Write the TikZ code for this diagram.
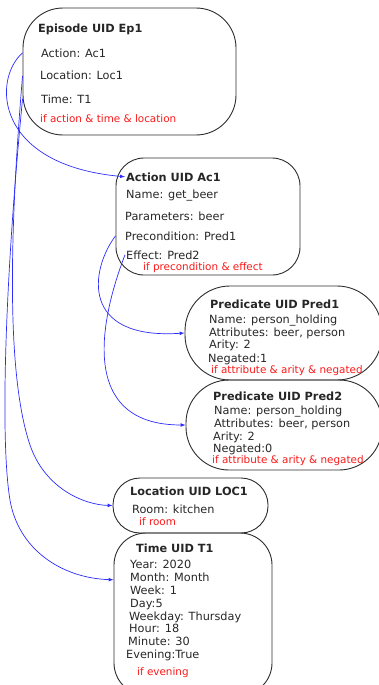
\documentclass[tikz,border=0pt]{standalone}
\usepackage{fontspec}
\setmainfont{DejaVu Sans}
\usetikzlibrary{arrows}
\definecolor{linkblue}{RGB}{45,45,250}
\definecolor{condred}{RGB}{250,25,25}
\definecolor{boxgray}{RGB}{45,45,45}
\tikzset{
  frame/.style={draw=boxgray, line width=0.9pt, inner sep=0pt},
  txt/.style={anchor=base west, inner sep=1pt, text=black!85, font=\fontsize{11.3}{13}\selectfont},
  ttl/.style={txt, font=\bfseries\fontsize{11.3}{13}\selectfont},
  cond/.style={txt, text=condred, font=\fontsize{10.4}{12}\selectfont},
  link/.style={draw=linkblue, line width=0.7pt, ->, >=latex}
}

\begin{document}
\begin{tikzpicture}[x=1pt,y=-1pt]
    \useasboundingbox (0,0) rectangle (379,685);
    % boxes
    \draw (129.5,71.5) node[frame,minimum width=213pt,minimum height=127pt,rounded corners=40pt] (ep) {};
    \draw (208,216.5) node[frame,minimum width=184pt,minimum height=117pt,rounded corners=28pt] (act) {};
    \draw (283.5,333) node[frame,minimum width=197pt,minimum height=94pt,rounded corners=45pt] (pa) {};
    \draw (284,425) node[frame,minimum width=196pt,minimum height=90pt,rounded corners=43pt] (pb) {};
    \draw (190.5,505.5) node[frame,minimum width=155pt,minimum height=55pt,rounded corners=27pt] (loc) {};
    \draw (193,614) node[frame,minimum width=158pt,minimum height=162pt,rounded corners=32pt] (tm) {};

    % episode
    \draw (37,33)  node[ttl] (epttl) {Episode UID Ep1};
    \draw (40,57)  node[txt] (epact) {Action: Ac1};
    \draw (39,80)  node[txt] (eploc) {Location: Loc1};
    \draw (40,103) node[txt] (eptime) {Time: T1};
    \draw (39,122) node[cond] (epif) {if action \& time \& location};

    % action
    \draw (125,181) node[ttl] (actttl) {Action UID Ac1};
    \draw (125,198) node[txt] (actname) {Name: get\_beer};
    \draw (124,220) node[txt] (actpar) {Parameters: beer};
    \draw (124,240) node[txt] (actpre) {Precondition: Pred1};
    \draw (125,259) node[txt] (acteff) {Effect: Pred2};
    \draw (142,270) node[cond] (actif) {if precondition \& effect};

    % predicates
    \draw (209,308) node[ttl] (pattl) {Predicate UID Pred1};
    \draw (208,323) node[txt] (paname) {Name: person\_holding};
    \draw (208,336) node[txt] (paattr) {Attributes: beer, person};
    \draw (208,348) node[txt] (paar) {Arity: 2};
    \draw (207,362) node[txt] (paneg) {Negated:1};
    \draw (210,373) node[cond] (paif) {if attribute \& arity \& negated};

    \draw (212,400) node[ttl] (pbttl) {Predicate UID Pred2};
    \draw (213,414) node[txt] (pbname) {Name: person\_holding};
    \draw (213,427) node[txt] (pbattr) {Attributes: beer, person};
    \draw (212,440) node[txt] (pbar) {Arity: 2};
    \draw (212,452) node[txt] (pbneg) {Negated:0};
    \draw (211,463) node[cond] (pbif) {if attribute \& arity \& negated};

    % location
    \draw (129,495) node[ttl] (locttl) {Location UID LOC1};
    \draw (131,513) node[txt] (locroom) {Room: kitchen};
    \draw (138,525) node[cond] (locif) {if room};

    % time
    \draw (135,552) node[ttl] (tmttl) {Time UID T1};
    \draw (129,568) node[txt] (tmyear) {Year: 2020};
    \draw (129,581) node[txt] (tmmonth) {Month: Month};
    \draw (129,594) node[txt] (tmweek) {Week: 1};
    \draw (129,607) node[txt] (tmday) {Day:5};
    \draw (128,620) node[txt] (tmwday) {Weekday: Thursday};
    \draw (128,632) node[txt] (tmhour) {Hour: 18};
    \draw (127,645) node[txt] (tmmin) {Minute: 30};
    \draw (125,658) node[txt] (tmeve) {Evening:True};
    \draw (136,675) node[cond] (tmif) {if evening};

    % links
    \draw[link] (ep.west |- epact) .. controls (-8,80) and (-5,165) .. (actttl.west);
    \draw[link] (ep.west |- eploc) .. controls (8,250) and (8,380) .. (30,445)
                .. controls (45,489) and (85,505) .. (loc.west);
    \draw[link] (ep.west |- eptime) .. controls (5,280) and (0,440) .. (10,500)
                .. controls (18,548) and (60,578) .. ([yshift=-3pt]tm.west |- tmmonth);
    \draw[link] (act.west |- actpre) .. controls (90,270) and (80,340) .. (pa.west);
    \draw[link] (acteff.west) .. controls (100,320) and (78,425) .. (pb.west);
\end{tikzpicture}
\end{document}
